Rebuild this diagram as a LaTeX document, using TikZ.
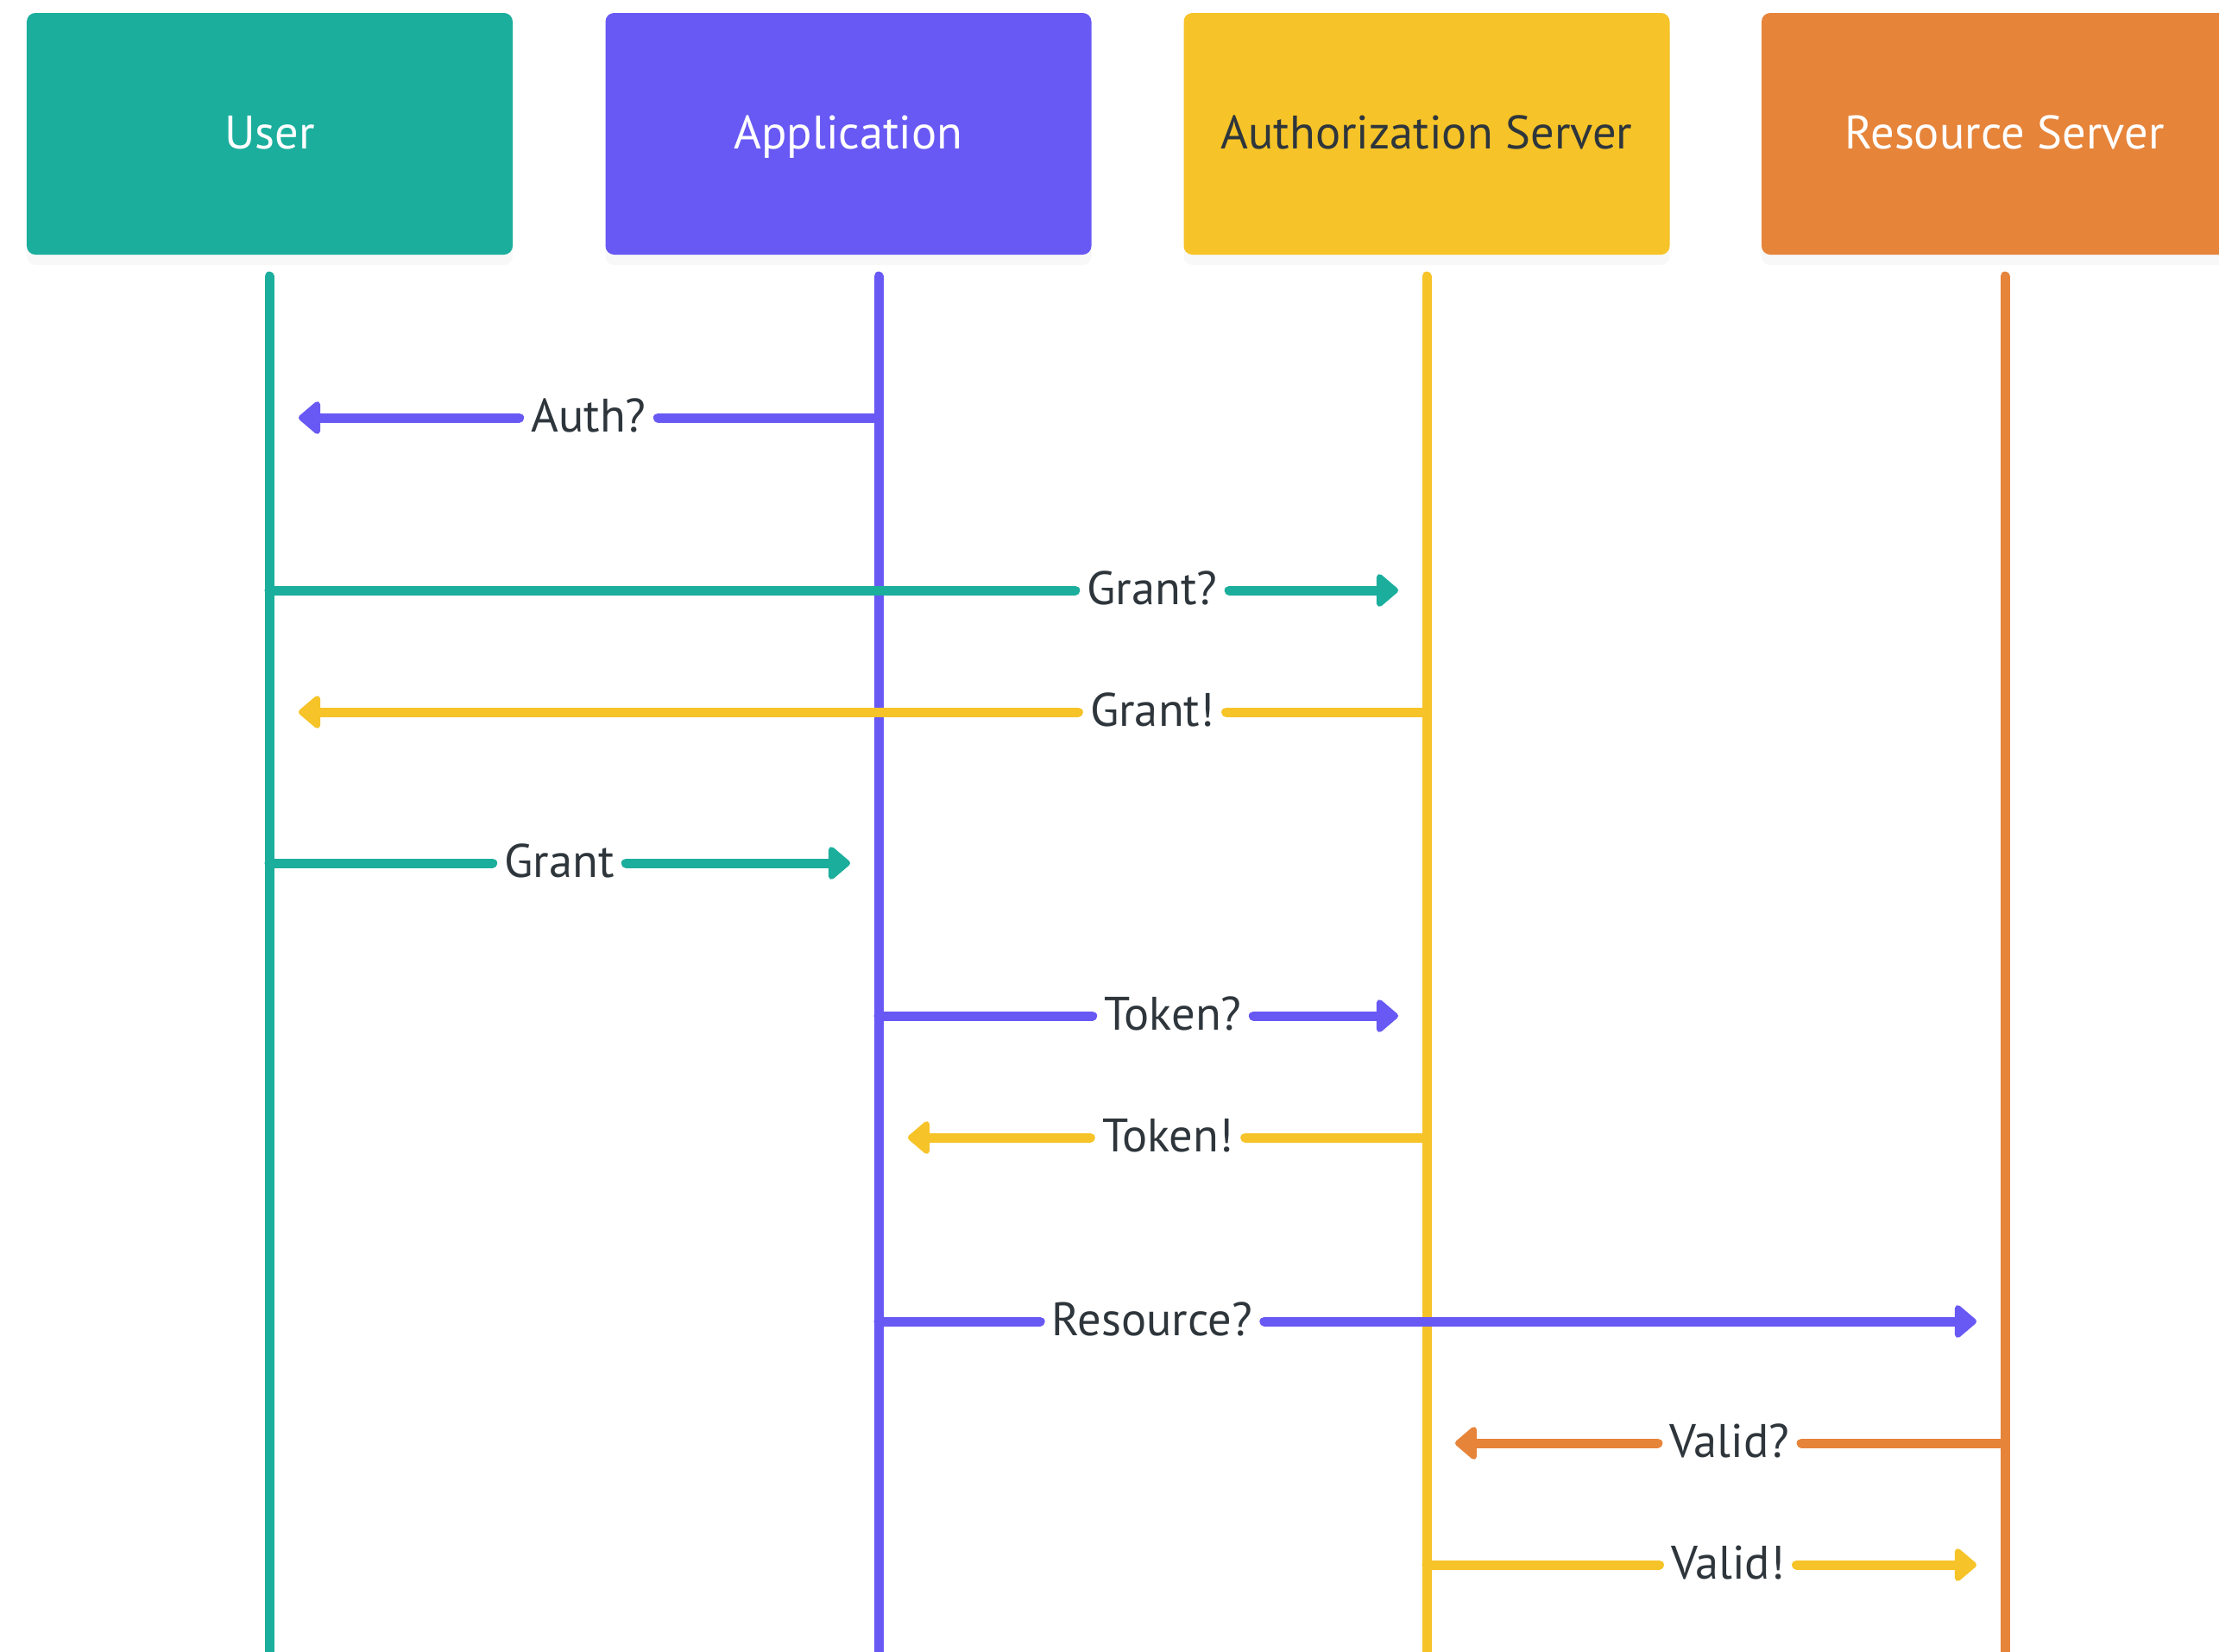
\documentclass[tikz,border=0pt]{standalone}
\usepackage{fontspec}
\setmainfont{PT Sans}
\usetikzlibrary{arrows.meta,shadows}
\definecolor{userteal}{HTML}{1BAE9D}
\definecolor{apppurple}{HTML}{6859F4}
\definecolor{authyellow}{HTML}{F6C328}
\definecolor{resorange}{HTML}{E6843A}
\definecolor{ink}{HTML}{2E363C}

\begin{document}
\begin{tikzpicture}[
    every node/.style={font=\fontsize{15.5}{18}\selectfont, text=ink},
    actor/.style={rectangle, rounded corners=0.1cm, minimum width=5.63cm,
        minimum height=2.8cm, text=white, text height=1.0em, text depth=0pt,
        drop shadow={opacity=0.06, shadow xshift=0cm, shadow yshift=-0.12cm}},
    life/.style={line width=0.11cm, line cap=round},
    msg/.style={line width=0.11cm, line cap=round},
    headed/.style={-{Triangle[length=0.27cm, width=0.44cm, round]}},
    lbl/.style={inner xsep=0.13cm, inner ysep=0pt, text height=0.94em, text depth=0pt},
]
\useasboundingbox (0,0) rectangle (25.71,-19.13);

% Participants
\node[actor, fill=userteal] (user) at (3.125,-1.55) {User};
\node[actor, fill=apppurple] (app) at (9.83,-1.55) {Application};
\node[actor, fill=authyellow, text=ink] (authsrv) at (16.53,-1.55) {Authorization Server};
\node[actor, fill=resorange] (ressrv) at (23.225,-1.55) {Resource Server};

% Lifelines
\coordinate (userTop) at (3.12,-3.2);   \coordinate (userEnd) at (3.12,-19.4);
\coordinate (appTop) at (10.18,-3.2);   \coordinate (appEnd) at (10.18,-19.4);
\coordinate (authTop) at (16.53,-3.2);  \coordinate (authEnd) at (16.53,-19.4);
\coordinate (resTop) at (23.23,-3.2);   \coordinate (resEnd) at (23.23,-19.4);
\draw[life, userteal] (userTop) -- (userEnd);
\draw[life, apppurple] (appTop) -- (appEnd);
\draw[life, authyellow] (authTop) -- (authEnd);
\draw[life, resorange] (resTop) -- (resEnd);

% Auth?  (application -> user)
\coordinate (authQs) at (10.18,-4.84);
\coordinate (authQt) at (3.46,-4.84);
\node[lbl] (lAuthQ) at (6.82,-4.84) {Auth?};
\draw[msg, apppurple] (authQs) -- (lAuthQ.east);
\draw[msg, apppurple, headed] (lAuthQ.west) -- (authQt);

% Grant?  (user -> authorization server)
\coordinate (grantQs) at (3.12,-6.84);
\coordinate (grantQt) at (16.20,-6.84);
\node[lbl] (lGrantQ) at (13.35,-6.84) {Grant?};
\draw[msg, userteal] (grantQs) -- (lGrantQ.west);
\draw[msg, userteal, headed] (lGrantQ.east) -- (grantQt);

% Grant!  (authorization server -> user)
\coordinate (grantXs) at (16.53,-8.25);
\coordinate (grantXt) at (3.46,-8.25);
\node[lbl] (lGrantX) at (13.35,-8.25) {Grant!};
\draw[msg, authyellow] (grantXs) -- (lGrantX.east);
\draw[msg, authyellow, headed] (lGrantX.west) -- (grantXt);

% Grant  (user -> application)
\coordinate (grantS) at (3.12,-10.00);
\coordinate (grantT) at (9.85,-10.00);
\node[lbl] (lGrant) at (6.48,-10.00) {Grant};
\draw[msg, userteal] (grantS) -- (lGrant.west);
\draw[msg, userteal, headed] (lGrant.east) -- (grantT);

% Token?  (application -> authorization server)
\coordinate (tokenQs) at (10.18,-11.77);
\coordinate (tokenQt) at (16.20,-11.77);
\node[lbl] (lTokenQ) at (13.59,-11.77) {Token?};
\draw[msg, apppurple] (tokenQs) -- (lTokenQ.west);
\draw[msg, apppurple, headed] (lTokenQ.east) -- (tokenQt);

% Token!  (authorization server -> application)
\coordinate (tokenXs) at (16.53,-13.18);
\coordinate (tokenXt) at (10.52,-13.18);
\node[lbl] (lTokenX) at (13.53,-13.18) {Token!};
\draw[msg, authyellow] (tokenXs) -- (lTokenX.east);
\draw[msg, authyellow, headed] (lTokenX.west) -- (tokenXt);

% Resource?  (application -> resource server)
\coordinate (resQs) at (10.18,-15.31);
\coordinate (resQt) at (22.90,-15.31);
\node[lbl] (lResQ) at (13.35,-15.31) {Resource?};
\draw[msg, apppurple] (resQs) -- (lResQ.west);
\draw[msg, apppurple, headed] (lResQ.east) -- (resQt);

% Valid?  (resource server -> authorization server)
\coordinate (validQs) at (23.23,-16.72);
\coordinate (validQt) at (16.86,-16.72);
\node[lbl] (lValidQ) at (20.04,-16.72) {Valid?};
\draw[msg, resorange] (validQs) -- (lValidQ.east);
\draw[msg, resorange, headed] (lValidQ.west) -- (validQt);

% Valid!  (authorization server -> resource server)
\coordinate (validXs) at (16.53,-18.13);
\coordinate (validXt) at (22.90,-18.13);
\node[lbl] (lValidX) at (20.02,-18.13) {Valid!};
\draw[msg, authyellow] (validXs) -- (lValidX.west);
\draw[msg, authyellow, headed] (lValidX.east) -- (validXt);

\end{tikzpicture}
\end{document}
